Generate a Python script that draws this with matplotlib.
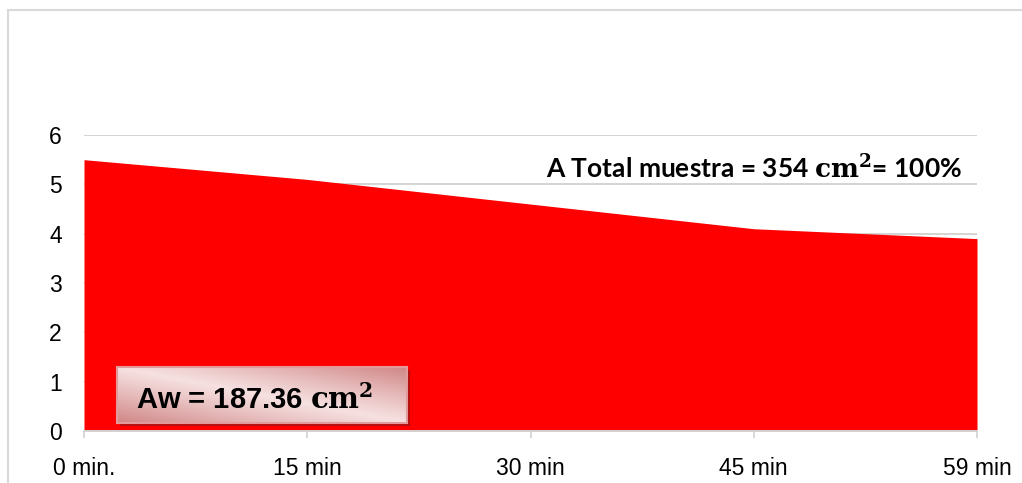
import numpy as np
import matplotlib
matplotlib.use("Agg")
import matplotlib.pyplot as plt
from matplotlib.patches import Rectangle
from matplotlib.colors import to_rgb

plt.rcParams["mathtext.fontset"] = "dejavuserif"

# Data
categories = ["0 min.", "15 min", "30 min", "45 min", "59 min"]
values = [5.5, 5.1, 4.6, 4.1, 3.9]
y_ticks = [0, 1, 2, 3, 4, 5, 6]
total_label = "A Total muestra = 354 $\\mathbf{cm}^{\\mathbf{2}}$= 100%"
aw_label = "Aw = 187.36 $\\mathbf{cm}^{\\mathbf{2}}$"

W, H = 1022, 483
fig = plt.figure(figsize=(W / 100, H / 100), dpi=100)

def fx(px):
    return px / W

def fy(py):
    return 1 - py / H

# Outer chart frame (left and top edges visible)
fig.patches.append(Rectangle((fx(7.5), fy(600)), fx(1100), fy(9.5) - fy(600),
                             transform=fig.transFigure, fill=False,
                             edgecolor="#d9d9d9", linewidth=1.5, zorder=0))

ax = fig.add_axes([fx(84), fy(431), fx(977) - fx(84), fy(135) - fy(431)])
x = np.arange(len(categories))
ax.fill_between(x, values, 0, color="#ff0000", linewidth=0, zorder=2)

ax.set_xlim(0, len(categories) - 1)
ax.set_ylim(0, 6)
ax.set_yticks(y_ticks)
ax.set_xticks(x)
ax.set_xticklabels(categories)
ax.grid(axis="y", color="#d4d4d4", linewidth=1.4, zorder=1)
ax.set_axisbelow(True)
for side in ("left", "right", "top"):
    ax.spines[side].set_visible(False)
ax.spines["bottom"].set_color("#d4d4d4")
ax.spines["bottom"].set_linewidth(1.4)
ax.spines["bottom"].set_zorder(3)
ax.tick_params(axis="x", length=5, width=1.3, color="#d4d4d4",
               labelsize=16.5, pad=14, labelcolor="black")
ax.tick_params(axis="y", length=0, labelsize=16.5, pad=16, labelcolor="black")
for lbl in ax.get_xticklabels() + ax.get_yticklabels():
    lbl.set_fontfamily("Liberation Sans")

fig.text(fx(754), fy(168), total_label, ha="center", va="center",
         fontsize=19, fontweight="bold", family="Lato")

# Label box with shadow and gradient fill
bx0, by0, bx1, by1 = 117, 367, 407, 423
fig.patches.append(Rectangle((fx(bx0 + 3), fy(by1 + 3)), fx(bx1 - bx0), fy(by0) - fy(by1),
                             transform=fig.transFigure, facecolor="#b40e0e",
                             edgecolor="none", zorder=5))
bax = fig.add_axes([fx(bx0), fy(by1), fx(bx1 - bx0), fy(by0) - fy(by1)], zorder=6)
gx, gy = np.meshgrid(np.linspace(0, 1, 200), np.linspace(0, 1, 60))
dark = np.clip(np.abs(gx + gy - 1.0), 0, 1) ** 1.1
light_c = np.array(to_rgb("#f6e0e0"))
dark_c = np.array(to_rgb("#d08686"))
img = light_c[None, None, :] * (1 - dark[..., None]) + dark_c[None, None, :] * dark[..., None]
bax.imshow(img, extent=[0, 1, 0, 1], origin="lower", aspect="auto",
           interpolation="bilinear")
bax.set_xlim(0, 1)
bax.set_ylim(0, 1)
bax.set_xticks([])
bax.set_yticks([])
for s in bax.spines.values():
    s.set_color("#e39a9a")
    s.set_linewidth(1.5)
bax.text(0.475, 0.42, aw_label, ha="center", va="center", fontsize=21,
         fontweight="bold", family="Liberation Sans", transform=bax.transAxes)

fig.savefig("out.png", dpi=100)
